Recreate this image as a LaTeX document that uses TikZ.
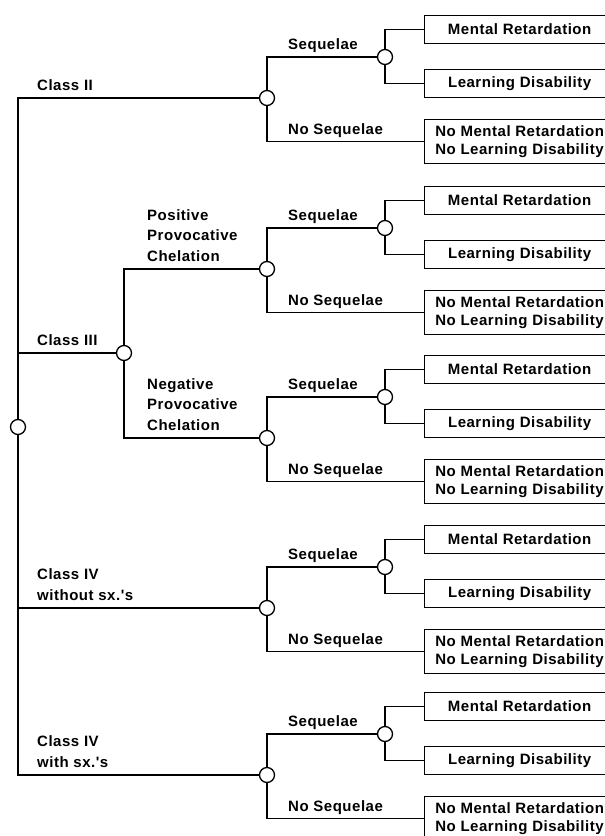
\documentclass[tikz,border=0pt]{standalone}
\usepackage{fontspec}
\newfontfamily\treefont[LetterSpace=3.5]{Liberation Sans}
\usetikzlibrary{positioning}

\begin{document}
\begin{tikzpicture}[x=1pt, y=-1pt,
                chance/.style={circle, draw, fill=white, line width=1.3pt, minimum size=15pt, inner sep=0pt},
                outcome/.style={draw, line width=1.3pt, anchor=west, minimum width=190pt, minimum height=28pt, inner sep=0pt,
                  font=\treefont\bfseries\fontsize{15}{17.5}\selectfont},
                nooutcome/.style={outcome, minimum height=44pt, align=left},
                lbl/.style={anchor=base west, inner sep=0pt, font=\treefont\bfseries\fontsize{15}{20.5}\selectfont},
                lblm/.style={lbl, anchor=south west, align=left},
                conn/.style={line width=1.3pt}
            ]
                \useasboundingbox (0,0) rectangle (605,836);

                % Root and Class III
                \node[chance] (root) at (18,427) {};
                \node[chance] (c3) at (124,353) {};

                % Sub-trees
                \foreach \d/\y in {c2/98, pos/269, neg/438, cfree/608, csx/775} {
                    \node[chance] (\d) at (267,\y) {};
                    \node[chance] (\d-s) at (385,\y-41) {};
                    \node[outcome] (\d-mr) at (424,\y-68.5) {Mental Retardation};
                    \node[outcome] (\d-ld) at (424,\y-14.5) {Learning Disability};
                    \node[nooutcome] (\d-no) at (424,\y+43.5) {No Mental Retardation\\No Learning Disability};
                    \draw[conn] (\d) |- (\d-s);
                    \draw[conn] (\d) |- (\d-no);
                    \draw[conn] (\d-s) |- (\d-mr);
                    \draw[conn] (\d-s) |- (\d-ld);
                    \node[lbl] at (288,\y-48.5) {Sequelae};
                    \node[lbl] at (288,\y+36) {No Sequelae};
                }

                % Connections
                \foreach \d in {c2, c3, cfree, csx} {
                    \draw[conn] (root) |- (\d);
                }
                \draw[conn] (c3) |- (pos);
                \draw[conn] (c3) |- (neg);

                % Labels
                \node[lbl] at (37,90.5) {Class II};
                \node[lbl] at (37,345.5) {Class III};
                \node[lblm] at (147,261.5) {Positive\\Provocative\\Chelation};
                \node[lblm] at (147,430.5) {Negative\\Provocative\\Chelation};
                \node[lblm] at (37,600.5) {Class IV\\without sx.'s};
                \node[lblm] at (37,767.5) {Class IV\\with sx.'s};
            \end{tikzpicture}
\end{document}
